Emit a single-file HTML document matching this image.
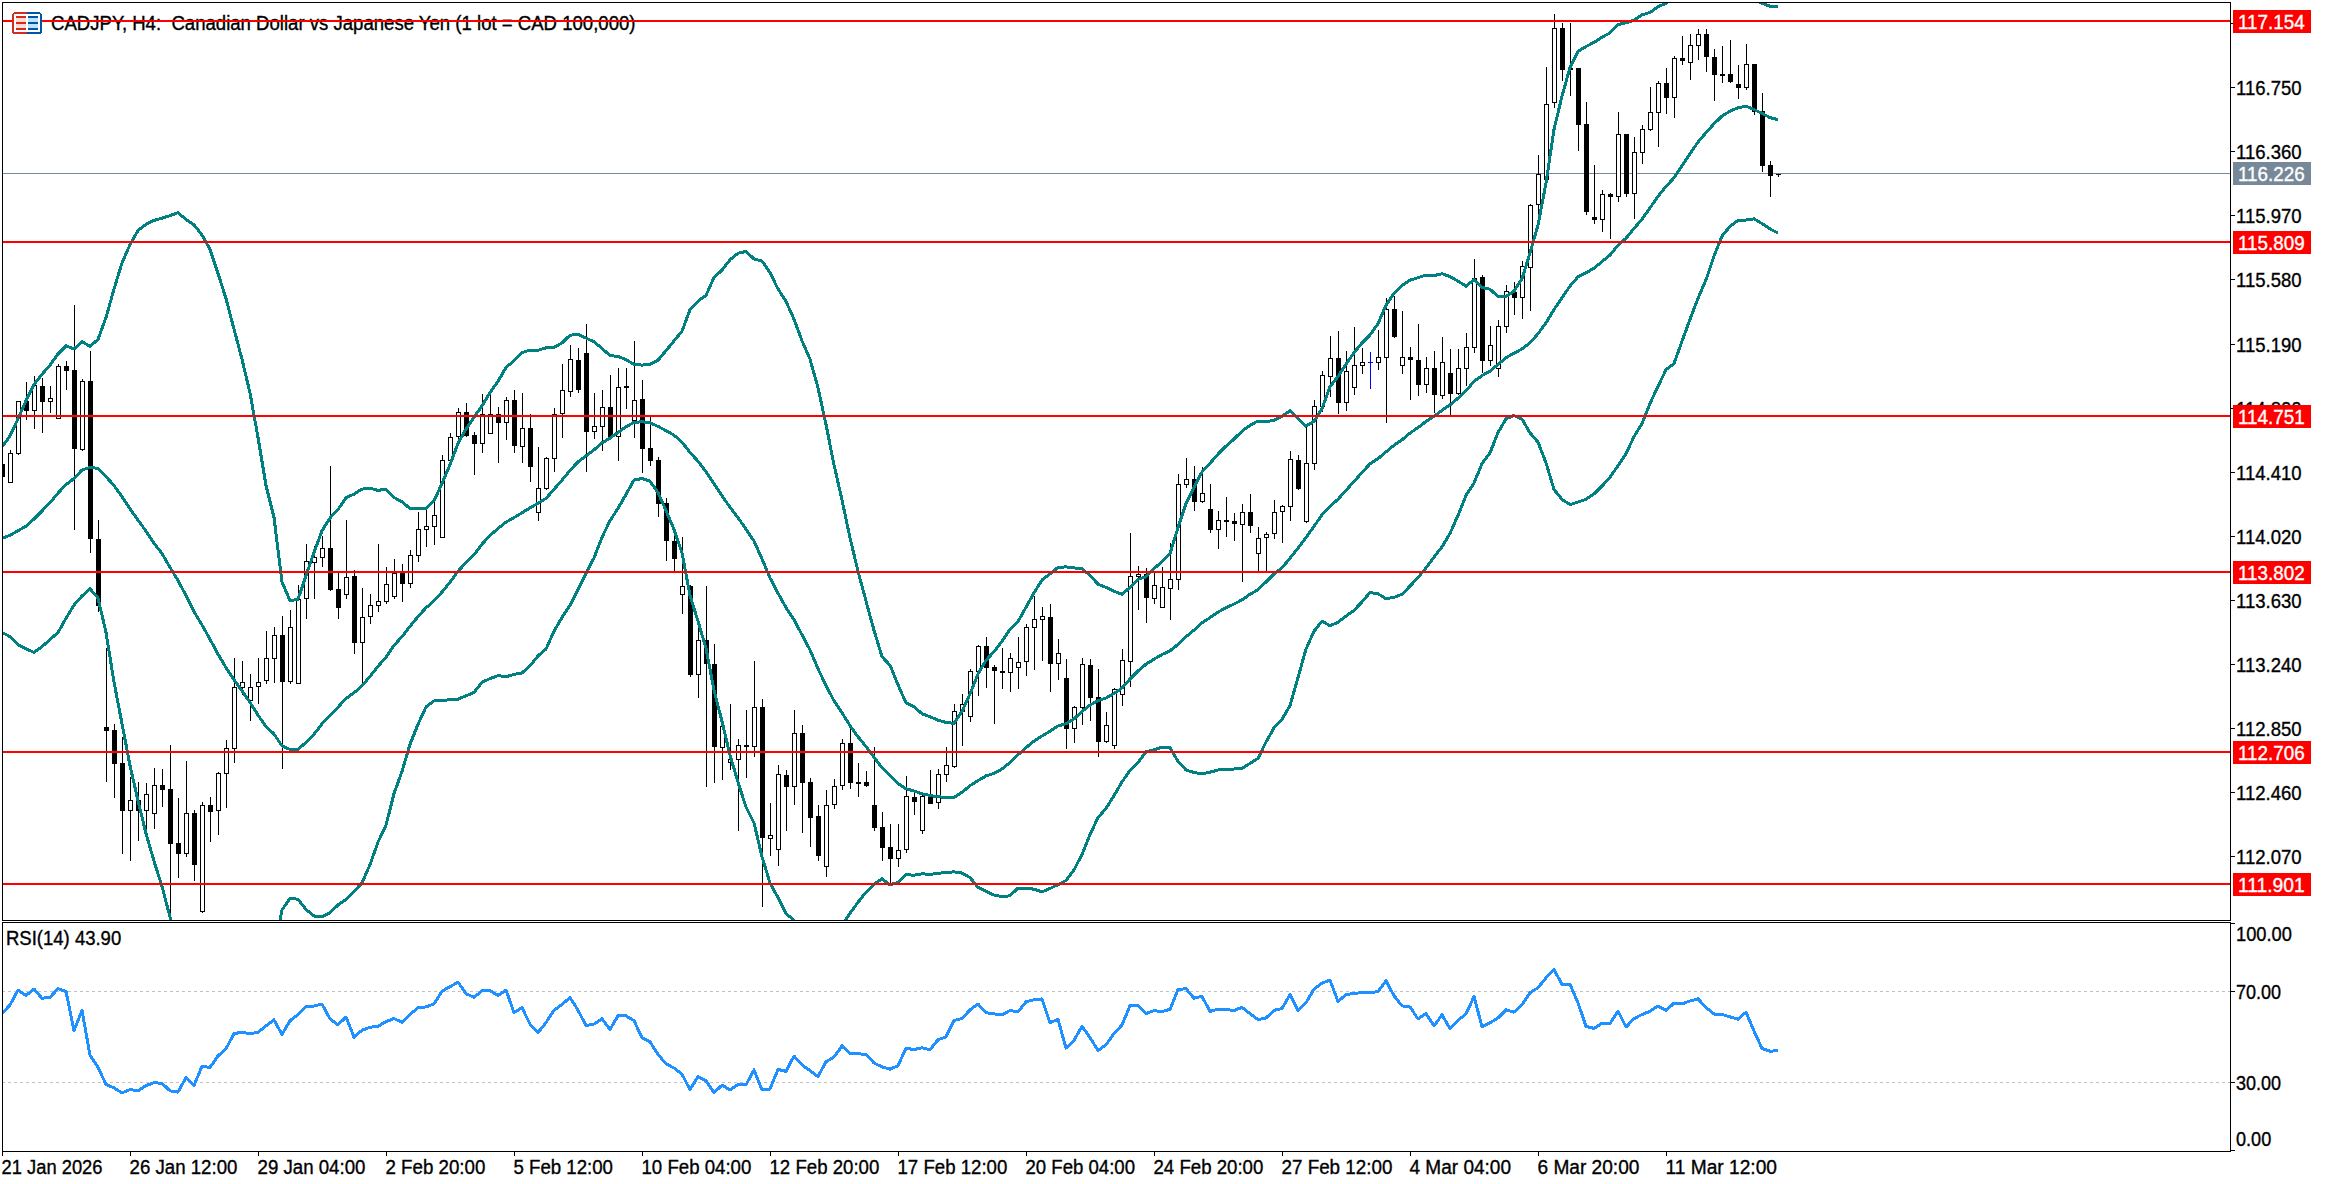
<!DOCTYPE html><html><head><meta charset="utf-8"><title>CADJPY, H4</title><style>html,body{margin:0;padding:0;background:#fff;overflow:hidden}svg{display:block}text{font-family:"Liberation Sans",sans-serif;stroke:currentColor;stroke-width:0.35px;paint-order:stroke}</style></head><body>
<svg width="2326" height="1184" viewBox="0 0 2326 1184">
<defs><clipPath id="cm"><rect x="3" y="3" width="2227" height="917"/></clipPath><clipPath id="cr"><rect x="3" y="923" width="2227" height="228"/></clipPath></defs>
<rect x="0" y="0" width="2326" height="1184" fill="#fff"/>
<g clip-path="url(#cm)">
<text x="51" y="30" font-size="19.5" textLength="584.5" lengthAdjust="spacingAndGlyphs" fill="#000" xml:space="preserve">CADJPY, H4:  Canadian Dollar vs Japanese Yen (1 lot = CAD 100,000)</text>
<rect x="3" y="173" width="2227" height="1" fill="#778899"/>
<g shape-rendering="crispEdges">
<rect x="2" y="460" width="1" height="20" fill="#000"/>
<rect x="0" y="464" width="5" height="13" fill="#000"/>
<rect x="10" y="450" width="1" height="33" fill="#000"/>
<rect x="8" y="453" width="5" height="30" fill="#000"/>
<rect x="9" y="454" width="3" height="28" fill="#fff"/>
<rect x="18" y="401" width="1" height="54" fill="#000"/>
<rect x="16" y="401" width="5" height="53" fill="#000"/>
<rect x="17" y="402" width="3" height="51" fill="#fff"/>
<rect x="26" y="382" width="1" height="38" fill="#000"/>
<rect x="24" y="401" width="5" height="10" fill="#000"/>
<rect x="34" y="376" width="1" height="53" fill="#000"/>
<rect x="32" y="385" width="5" height="26" fill="#000"/>
<rect x="33" y="386" width="3" height="24" fill="#fff"/>
<rect x="42" y="378" width="1" height="55" fill="#000"/>
<rect x="40" y="386" width="5" height="16" fill="#000"/>
<rect x="50" y="386" width="1" height="27" fill="#000"/>
<rect x="48" y="398" width="5" height="4" fill="#000"/>
<rect x="49" y="399" width="3" height="2" fill="#fff"/>
<rect x="58" y="364" width="1" height="55" fill="#000"/>
<rect x="56" y="366" width="5" height="53" fill="#000"/>
<rect x="57" y="367" width="3" height="51" fill="#fff"/>
<rect x="66" y="361" width="1" height="29" fill="#000"/>
<rect x="64" y="366" width="5" height="5" fill="#000"/>
<rect x="74" y="305" width="1" height="225" fill="#000"/>
<rect x="72" y="370" width="5" height="79" fill="#000"/>
<rect x="82" y="379" width="1" height="72" fill="#000"/>
<rect x="80" y="381" width="5" height="69" fill="#000"/>
<rect x="81" y="382" width="3" height="67" fill="#fff"/>
<rect x="90" y="351" width="1" height="202" fill="#000"/>
<rect x="88" y="381" width="5" height="158" fill="#000"/>
<rect x="98" y="520" width="1" height="92" fill="#000"/>
<rect x="96" y="539" width="5" height="67" fill="#000"/>
<rect x="106" y="648" width="1" height="134" fill="#000"/>
<rect x="104" y="727" width="5" height="4" fill="#000"/>
<rect x="114" y="724" width="1" height="74" fill="#000"/>
<rect x="112" y="730" width="5" height="34" fill="#000"/>
<rect x="122" y="737" width="1" height="117" fill="#000"/>
<rect x="120" y="763" width="5" height="48" fill="#000"/>
<rect x="130" y="777" width="1" height="84" fill="#000"/>
<rect x="128" y="800" width="5" height="11" fill="#000"/>
<rect x="129" y="801" width="3" height="9" fill="#fff"/>
<rect x="138" y="782" width="1" height="59" fill="#000"/>
<rect x="136" y="800" width="5" height="11" fill="#000"/>
<rect x="146" y="783" width="1" height="46" fill="#000"/>
<rect x="144" y="794" width="5" height="17" fill="#000"/>
<rect x="145" y="795" width="3" height="15" fill="#fff"/>
<rect x="154" y="768" width="1" height="61" fill="#000"/>
<rect x="152" y="785" width="5" height="29" fill="#000"/>
<rect x="153" y="786" width="3" height="27" fill="#fff"/>
<rect x="162" y="769" width="1" height="38" fill="#000"/>
<rect x="160" y="785" width="5" height="5" fill="#000"/>
<rect x="170" y="745" width="1" height="174" fill="#000"/>
<rect x="168" y="789" width="5" height="55" fill="#000"/>
<rect x="178" y="798" width="1" height="80" fill="#000"/>
<rect x="176" y="843" width="5" height="11" fill="#000"/>
<rect x="186" y="761" width="1" height="96" fill="#000"/>
<rect x="184" y="813" width="5" height="41" fill="#000"/>
<rect x="185" y="814" width="3" height="39" fill="#fff"/>
<rect x="194" y="810" width="1" height="71" fill="#000"/>
<rect x="192" y="813" width="5" height="52" fill="#000"/>
<rect x="202" y="802" width="1" height="111" fill="#000"/>
<rect x="200" y="805" width="5" height="107" fill="#000"/>
<rect x="201" y="806" width="3" height="105" fill="#fff"/>
<rect x="210" y="797" width="1" height="45" fill="#000"/>
<rect x="208" y="805" width="5" height="7" fill="#000"/>
<rect x="218" y="772" width="1" height="63" fill="#000"/>
<rect x="216" y="773" width="5" height="38" fill="#000"/>
<rect x="217" y="774" width="3" height="36" fill="#fff"/>
<rect x="226" y="740" width="1" height="68" fill="#000"/>
<rect x="224" y="748" width="5" height="26" fill="#000"/>
<rect x="225" y="749" width="3" height="24" fill="#fff"/>
<rect x="234" y="658" width="1" height="105" fill="#000"/>
<rect x="232" y="687" width="5" height="62" fill="#000"/>
<rect x="233" y="688" width="3" height="60" fill="#fff"/>
<rect x="242" y="661" width="1" height="34" fill="#000"/>
<rect x="240" y="682" width="5" height="6" fill="#000"/>
<rect x="241" y="683" width="3" height="4" fill="#fff"/>
<rect x="250" y="674" width="1" height="47" fill="#000"/>
<rect x="248" y="687" width="5" height="14" fill="#000"/>
<rect x="249" y="688" width="3" height="12" fill="#fff"/>
<rect x="258" y="658" width="1" height="46" fill="#000"/>
<rect x="256" y="682" width="5" height="5" fill="#000"/>
<rect x="257" y="683" width="3" height="3" fill="#fff"/>
<rect x="266" y="631" width="1" height="53" fill="#000"/>
<rect x="264" y="658" width="5" height="23" fill="#000"/>
<rect x="265" y="659" width="3" height="21" fill="#fff"/>
<rect x="274" y="627" width="1" height="56" fill="#000"/>
<rect x="272" y="635" width="5" height="24" fill="#000"/>
<rect x="273" y="636" width="3" height="22" fill="#fff"/>
<rect x="282" y="616" width="1" height="153" fill="#000"/>
<rect x="280" y="635" width="5" height="47" fill="#000"/>
<rect x="290" y="610" width="1" height="74" fill="#000"/>
<rect x="288" y="627" width="5" height="55" fill="#000"/>
<rect x="289" y="628" width="3" height="53" fill="#fff"/>
<rect x="298" y="585" width="1" height="99" fill="#000"/>
<rect x="296" y="599" width="5" height="85" fill="#000"/>
<rect x="297" y="600" width="3" height="83" fill="#fff"/>
<rect x="306" y="544" width="1" height="75" fill="#000"/>
<rect x="304" y="561" width="5" height="38" fill="#000"/>
<rect x="305" y="562" width="3" height="36" fill="#fff"/>
<rect x="314" y="546" width="1" height="53" fill="#000"/>
<rect x="312" y="557" width="5" height="6" fill="#000"/>
<rect x="313" y="558" width="3" height="4" fill="#fff"/>
<rect x="322" y="536" width="1" height="31" fill="#000"/>
<rect x="320" y="548" width="5" height="10" fill="#000"/>
<rect x="321" y="549" width="3" height="8" fill="#fff"/>
<rect x="330" y="466" width="1" height="125" fill="#000"/>
<rect x="328" y="548" width="5" height="42" fill="#000"/>
<rect x="338" y="573" width="1" height="46" fill="#000"/>
<rect x="336" y="589" width="5" height="19" fill="#000"/>
<rect x="346" y="520" width="1" height="79" fill="#000"/>
<rect x="344" y="577" width="5" height="18" fill="#000"/>
<rect x="345" y="578" width="3" height="16" fill="#fff"/>
<rect x="354" y="570" width="1" height="84" fill="#000"/>
<rect x="352" y="576" width="5" height="67" fill="#000"/>
<rect x="362" y="588" width="1" height="96" fill="#000"/>
<rect x="360" y="617" width="5" height="26" fill="#000"/>
<rect x="361" y="618" width="3" height="24" fill="#fff"/>
<rect x="370" y="594" width="1" height="30" fill="#000"/>
<rect x="368" y="605" width="5" height="12" fill="#000"/>
<rect x="369" y="606" width="3" height="10" fill="#fff"/>
<rect x="378" y="544" width="1" height="68" fill="#000"/>
<rect x="376" y="601" width="5" height="5" fill="#000"/>
<rect x="377" y="602" width="3" height="3" fill="#fff"/>
<rect x="386" y="567" width="1" height="37" fill="#000"/>
<rect x="384" y="584" width="5" height="18" fill="#000"/>
<rect x="385" y="585" width="3" height="16" fill="#fff"/>
<rect x="394" y="559" width="1" height="40" fill="#000"/>
<rect x="392" y="573" width="5" height="24" fill="#000"/>
<rect x="393" y="574" width="3" height="22" fill="#fff"/>
<rect x="402" y="564" width="1" height="38" fill="#000"/>
<rect x="400" y="573" width="5" height="11" fill="#000"/>
<rect x="410" y="550" width="1" height="38" fill="#000"/>
<rect x="408" y="555" width="5" height="29" fill="#000"/>
<rect x="409" y="556" width="3" height="27" fill="#fff"/>
<rect x="418" y="512" width="1" height="50" fill="#000"/>
<rect x="416" y="529" width="5" height="27" fill="#000"/>
<rect x="417" y="530" width="3" height="25" fill="#fff"/>
<rect x="426" y="510" width="1" height="37" fill="#000"/>
<rect x="424" y="526" width="5" height="4" fill="#000"/>
<rect x="425" y="527" width="3" height="2" fill="#fff"/>
<rect x="434" y="502" width="1" height="43" fill="#000"/>
<rect x="432" y="515" width="5" height="12" fill="#000"/>
<rect x="433" y="516" width="3" height="10" fill="#fff"/>
<rect x="442" y="455" width="1" height="83" fill="#000"/>
<rect x="440" y="460" width="5" height="78" fill="#000"/>
<rect x="441" y="461" width="3" height="76" fill="#fff"/>
<rect x="450" y="433" width="1" height="28" fill="#000"/>
<rect x="448" y="437" width="5" height="24" fill="#000"/>
<rect x="449" y="438" width="3" height="22" fill="#fff"/>
<rect x="458" y="408" width="1" height="32" fill="#000"/>
<rect x="456" y="412" width="5" height="25" fill="#000"/>
<rect x="457" y="413" width="3" height="23" fill="#fff"/>
<rect x="466" y="403" width="1" height="34" fill="#000"/>
<rect x="464" y="412" width="5" height="24" fill="#000"/>
<rect x="474" y="432" width="1" height="43" fill="#000"/>
<rect x="472" y="435" width="5" height="9" fill="#000"/>
<rect x="482" y="394" width="1" height="59" fill="#000"/>
<rect x="480" y="414" width="5" height="30" fill="#000"/>
<rect x="481" y="415" width="3" height="28" fill="#fff"/>
<rect x="490" y="395" width="1" height="39" fill="#000"/>
<rect x="488" y="414" width="5" height="20" fill="#000"/>
<rect x="489" y="415" width="3" height="18" fill="#fff"/>
<rect x="498" y="407" width="1" height="56" fill="#000"/>
<rect x="496" y="414" width="5" height="9" fill="#000"/>
<rect x="506" y="397" width="1" height="43" fill="#000"/>
<rect x="504" y="400" width="5" height="23" fill="#000"/>
<rect x="505" y="401" width="3" height="21" fill="#fff"/>
<rect x="514" y="390" width="1" height="63" fill="#000"/>
<rect x="512" y="400" width="5" height="46" fill="#000"/>
<rect x="522" y="393" width="1" height="70" fill="#000"/>
<rect x="520" y="428" width="5" height="19" fill="#000"/>
<rect x="521" y="429" width="3" height="17" fill="#fff"/>
<rect x="530" y="414" width="1" height="68" fill="#000"/>
<rect x="528" y="428" width="5" height="39" fill="#000"/>
<rect x="538" y="447" width="1" height="74" fill="#000"/>
<rect x="536" y="488" width="5" height="25" fill="#000"/>
<rect x="537" y="489" width="3" height="23" fill="#fff"/>
<rect x="546" y="457" width="1" height="33" fill="#000"/>
<rect x="544" y="458" width="5" height="31" fill="#000"/>
<rect x="545" y="459" width="3" height="29" fill="#fff"/>
<rect x="554" y="408" width="1" height="64" fill="#000"/>
<rect x="552" y="414" width="5" height="45" fill="#000"/>
<rect x="553" y="415" width="3" height="43" fill="#fff"/>
<rect x="562" y="364" width="1" height="74" fill="#000"/>
<rect x="560" y="390" width="5" height="24" fill="#000"/>
<rect x="561" y="391" width="3" height="22" fill="#fff"/>
<rect x="570" y="345" width="1" height="52" fill="#000"/>
<rect x="568" y="359" width="5" height="33" fill="#000"/>
<rect x="569" y="360" width="3" height="31" fill="#fff"/>
<rect x="578" y="348" width="1" height="45" fill="#000"/>
<rect x="576" y="360" width="5" height="30" fill="#000"/>
<rect x="586" y="324" width="1" height="148" fill="#000"/>
<rect x="584" y="353" width="5" height="79" fill="#000"/>
<rect x="594" y="393" width="1" height="46" fill="#000"/>
<rect x="592" y="426" width="5" height="6" fill="#000"/>
<rect x="593" y="427" width="3" height="4" fill="#fff"/>
<rect x="602" y="390" width="1" height="61" fill="#000"/>
<rect x="600" y="407" width="5" height="20" fill="#000"/>
<rect x="601" y="408" width="3" height="18" fill="#fff"/>
<rect x="610" y="375" width="1" height="62" fill="#000"/>
<rect x="608" y="407" width="5" height="30" fill="#000"/>
<rect x="618" y="368" width="1" height="93" fill="#000"/>
<rect x="616" y="387" width="5" height="50" fill="#000"/>
<rect x="617" y="388" width="3" height="48" fill="#fff"/>
<rect x="626" y="368" width="1" height="41" fill="#000"/>
<rect x="624" y="386" width="5" height="2" fill="#000"/>
<rect x="634" y="341" width="1" height="97" fill="#000"/>
<rect x="632" y="400" width="5" height="21" fill="#000"/>
<rect x="633" y="401" width="3" height="19" fill="#fff"/>
<rect x="642" y="380" width="1" height="93" fill="#000"/>
<rect x="640" y="399" width="5" height="50" fill="#000"/>
<rect x="650" y="417" width="1" height="49" fill="#000"/>
<rect x="648" y="448" width="5" height="13" fill="#000"/>
<rect x="658" y="457" width="1" height="60" fill="#000"/>
<rect x="656" y="460" width="5" height="44" fill="#000"/>
<rect x="666" y="498" width="1" height="63" fill="#000"/>
<rect x="664" y="503" width="5" height="38" fill="#000"/>
<rect x="674" y="534" width="1" height="37" fill="#000"/>
<rect x="672" y="541" width="5" height="18" fill="#000"/>
<rect x="682" y="537" width="1" height="77" fill="#000"/>
<rect x="680" y="586" width="5" height="9" fill="#000"/>
<rect x="681" y="587" width="3" height="7" fill="#fff"/>
<rect x="690" y="585" width="1" height="92" fill="#000"/>
<rect x="688" y="586" width="5" height="89" fill="#000"/>
<rect x="698" y="626" width="1" height="72" fill="#000"/>
<rect x="696" y="640" width="5" height="35" fill="#000"/>
<rect x="697" y="641" width="3" height="33" fill="#fff"/>
<rect x="706" y="586" width="1" height="201" fill="#000"/>
<rect x="704" y="640" width="5" height="24" fill="#000"/>
<rect x="714" y="644" width="1" height="139" fill="#000"/>
<rect x="712" y="664" width="5" height="83" fill="#000"/>
<rect x="722" y="726" width="1" height="54" fill="#000"/>
<rect x="720" y="726" width="5" height="22" fill="#000"/>
<rect x="721" y="727" width="3" height="20" fill="#fff"/>
<rect x="730" y="704" width="1" height="66" fill="#000"/>
<rect x="728" y="759" width="5" height="4" fill="#000"/>
<rect x="729" y="760" width="3" height="2" fill="#fff"/>
<rect x="738" y="739" width="1" height="92" fill="#000"/>
<rect x="736" y="745" width="5" height="15" fill="#000"/>
<rect x="737" y="746" width="3" height="13" fill="#fff"/>
<rect x="746" y="710" width="1" height="68" fill="#000"/>
<rect x="744" y="745" width="5" height="2" fill="#000"/>
<rect x="754" y="661" width="1" height="96" fill="#000"/>
<rect x="752" y="707" width="5" height="40" fill="#000"/>
<rect x="753" y="708" width="3" height="38" fill="#fff"/>
<rect x="762" y="699" width="1" height="208" fill="#000"/>
<rect x="760" y="707" width="5" height="131" fill="#000"/>
<rect x="770" y="803" width="1" height="53" fill="#000"/>
<rect x="768" y="835" width="5" height="4" fill="#000"/>
<rect x="769" y="836" width="3" height="2" fill="#fff"/>
<rect x="778" y="765" width="1" height="101" fill="#000"/>
<rect x="776" y="774" width="5" height="76" fill="#000"/>
<rect x="777" y="775" width="3" height="74" fill="#fff"/>
<rect x="786" y="770" width="1" height="61" fill="#000"/>
<rect x="784" y="775" width="5" height="12" fill="#000"/>
<rect x="794" y="710" width="1" height="95" fill="#000"/>
<rect x="792" y="733" width="5" height="54" fill="#000"/>
<rect x="793" y="734" width="3" height="52" fill="#fff"/>
<rect x="802" y="725" width="1" height="108" fill="#000"/>
<rect x="800" y="733" width="5" height="50" fill="#000"/>
<rect x="810" y="778" width="1" height="69" fill="#000"/>
<rect x="808" y="782" width="5" height="36" fill="#000"/>
<rect x="818" y="805" width="1" height="56" fill="#000"/>
<rect x="816" y="816" width="5" height="40" fill="#000"/>
<rect x="826" y="790" width="1" height="87" fill="#000"/>
<rect x="824" y="805" width="5" height="62" fill="#000"/>
<rect x="825" y="806" width="3" height="60" fill="#fff"/>
<rect x="834" y="779" width="1" height="30" fill="#000"/>
<rect x="832" y="786" width="5" height="19" fill="#000"/>
<rect x="833" y="787" width="3" height="17" fill="#fff"/>
<rect x="842" y="739" width="1" height="51" fill="#000"/>
<rect x="840" y="743" width="5" height="43" fill="#000"/>
<rect x="841" y="744" width="3" height="41" fill="#fff"/>
<rect x="850" y="728" width="1" height="61" fill="#000"/>
<rect x="848" y="743" width="5" height="40" fill="#000"/>
<rect x="858" y="763" width="1" height="34" fill="#000"/>
<rect x="856" y="782" width="5" height="2" fill="#000"/>
<rect x="866" y="771" width="1" height="16" fill="#000"/>
<rect x="864" y="782" width="5" height="4" fill="#000"/>
<rect x="874" y="747" width="1" height="84" fill="#000"/>
<rect x="872" y="805" width="5" height="23" fill="#000"/>
<rect x="882" y="812" width="1" height="49" fill="#000"/>
<rect x="880" y="827" width="5" height="21" fill="#000"/>
<rect x="890" y="824" width="1" height="60" fill="#000"/>
<rect x="888" y="847" width="5" height="12" fill="#000"/>
<rect x="898" y="824" width="1" height="43" fill="#000"/>
<rect x="896" y="850" width="5" height="9" fill="#000"/>
<rect x="897" y="851" width="3" height="7" fill="#fff"/>
<rect x="906" y="776" width="1" height="77" fill="#000"/>
<rect x="904" y="796" width="5" height="54" fill="#000"/>
<rect x="905" y="797" width="3" height="52" fill="#fff"/>
<rect x="914" y="792" width="1" height="23" fill="#000"/>
<rect x="912" y="797" width="5" height="5" fill="#000"/>
<rect x="922" y="794" width="1" height="40" fill="#000"/>
<rect x="920" y="796" width="5" height="35" fill="#000"/>
<rect x="921" y="797" width="3" height="33" fill="#fff"/>
<rect x="930" y="770" width="1" height="34" fill="#000"/>
<rect x="928" y="797" width="5" height="7" fill="#000"/>
<rect x="938" y="769" width="1" height="40" fill="#000"/>
<rect x="936" y="774" width="5" height="29" fill="#000"/>
<rect x="937" y="775" width="3" height="27" fill="#fff"/>
<rect x="946" y="747" width="1" height="35" fill="#000"/>
<rect x="944" y="765" width="5" height="10" fill="#000"/>
<rect x="945" y="766" width="3" height="8" fill="#fff"/>
<rect x="954" y="704" width="1" height="64" fill="#000"/>
<rect x="952" y="711" width="5" height="56" fill="#000"/>
<rect x="953" y="712" width="3" height="54" fill="#fff"/>
<rect x="962" y="694" width="1" height="52" fill="#000"/>
<rect x="960" y="704" width="5" height="8" fill="#000"/>
<rect x="961" y="705" width="3" height="6" fill="#fff"/>
<rect x="970" y="669" width="1" height="53" fill="#000"/>
<rect x="968" y="671" width="5" height="46" fill="#000"/>
<rect x="969" y="672" width="3" height="44" fill="#fff"/>
<rect x="978" y="645" width="1" height="51" fill="#000"/>
<rect x="976" y="646" width="5" height="26" fill="#000"/>
<rect x="977" y="647" width="3" height="24" fill="#fff"/>
<rect x="986" y="637" width="1" height="51" fill="#000"/>
<rect x="984" y="646" width="5" height="22" fill="#000"/>
<rect x="994" y="665" width="1" height="59" fill="#000"/>
<rect x="992" y="667" width="5" height="4" fill="#000"/>
<rect x="1002" y="648" width="1" height="41" fill="#000"/>
<rect x="1000" y="671" width="5" height="2" fill="#000"/>
<rect x="1010" y="653" width="1" height="39" fill="#000"/>
<rect x="1008" y="658" width="5" height="15" fill="#000"/>
<rect x="1009" y="659" width="3" height="13" fill="#fff"/>
<rect x="1018" y="637" width="1" height="52" fill="#000"/>
<rect x="1016" y="662" width="5" height="6" fill="#000"/>
<rect x="1017" y="663" width="3" height="4" fill="#fff"/>
<rect x="1026" y="624" width="1" height="52" fill="#000"/>
<rect x="1024" y="627" width="5" height="35" fill="#000"/>
<rect x="1025" y="628" width="3" height="33" fill="#fff"/>
<rect x="1034" y="596" width="1" height="74" fill="#000"/>
<rect x="1032" y="619" width="5" height="9" fill="#000"/>
<rect x="1033" y="620" width="3" height="7" fill="#fff"/>
<rect x="1042" y="607" width="1" height="54" fill="#000"/>
<rect x="1040" y="616" width="5" height="4" fill="#000"/>
<rect x="1041" y="617" width="3" height="2" fill="#fff"/>
<rect x="1050" y="604" width="1" height="88" fill="#000"/>
<rect x="1048" y="617" width="5" height="47" fill="#000"/>
<rect x="1058" y="639" width="1" height="41" fill="#000"/>
<rect x="1056" y="653" width="5" height="11" fill="#000"/>
<rect x="1057" y="654" width="3" height="9" fill="#fff"/>
<rect x="1066" y="659" width="1" height="90" fill="#000"/>
<rect x="1064" y="678" width="5" height="51" fill="#000"/>
<rect x="1074" y="706" width="1" height="37" fill="#000"/>
<rect x="1072" y="707" width="5" height="22" fill="#000"/>
<rect x="1073" y="708" width="3" height="20" fill="#fff"/>
<rect x="1082" y="658" width="1" height="67" fill="#000"/>
<rect x="1080" y="664" width="5" height="44" fill="#000"/>
<rect x="1081" y="665" width="3" height="42" fill="#fff"/>
<rect x="1090" y="659" width="1" height="62" fill="#000"/>
<rect x="1088" y="665" width="5" height="33" fill="#000"/>
<rect x="1098" y="669" width="1" height="88" fill="#000"/>
<rect x="1096" y="697" width="5" height="45" fill="#000"/>
<rect x="1106" y="712" width="1" height="31" fill="#000"/>
<rect x="1104" y="725" width="5" height="17" fill="#000"/>
<rect x="1105" y="726" width="3" height="15" fill="#fff"/>
<rect x="1114" y="688" width="1" height="61" fill="#000"/>
<rect x="1112" y="689" width="5" height="57" fill="#000"/>
<rect x="1113" y="690" width="3" height="55" fill="#fff"/>
<rect x="1122" y="649" width="1" height="57" fill="#000"/>
<rect x="1120" y="660" width="5" height="35" fill="#000"/>
<rect x="1121" y="661" width="3" height="33" fill="#fff"/>
<rect x="1130" y="533" width="1" height="154" fill="#000"/>
<rect x="1128" y="576" width="5" height="86" fill="#000"/>
<rect x="1129" y="577" width="3" height="84" fill="#fff"/>
<rect x="1138" y="566" width="1" height="44" fill="#000"/>
<rect x="1136" y="574" width="5" height="3" fill="#000"/>
<rect x="1137" y="575" width="3" height="1" fill="#fff"/>
<rect x="1146" y="568" width="1" height="55" fill="#000"/>
<rect x="1144" y="574" width="5" height="24" fill="#000"/>
<rect x="1154" y="573" width="1" height="31" fill="#000"/>
<rect x="1152" y="585" width="5" height="14" fill="#000"/>
<rect x="1153" y="586" width="3" height="12" fill="#fff"/>
<rect x="1162" y="567" width="1" height="41" fill="#000"/>
<rect x="1160" y="587" width="5" height="21" fill="#000"/>
<rect x="1161" y="588" width="3" height="19" fill="#fff"/>
<rect x="1170" y="543" width="1" height="77" fill="#000"/>
<rect x="1168" y="579" width="5" height="10" fill="#000"/>
<rect x="1169" y="580" width="3" height="8" fill="#fff"/>
<rect x="1178" y="474" width="1" height="116" fill="#000"/>
<rect x="1176" y="484" width="5" height="96" fill="#000"/>
<rect x="1177" y="485" width="3" height="94" fill="#fff"/>
<rect x="1186" y="458" width="1" height="30" fill="#000"/>
<rect x="1184" y="479" width="5" height="6" fill="#000"/>
<rect x="1185" y="480" width="3" height="4" fill="#fff"/>
<rect x="1194" y="466" width="1" height="45" fill="#000"/>
<rect x="1192" y="479" width="5" height="23" fill="#000"/>
<rect x="1202" y="467" width="1" height="36" fill="#000"/>
<rect x="1200" y="493" width="5" height="9" fill="#000"/>
<rect x="1201" y="494" width="3" height="7" fill="#fff"/>
<rect x="1210" y="484" width="1" height="49" fill="#000"/>
<rect x="1208" y="509" width="5" height="21" fill="#000"/>
<rect x="1218" y="511" width="1" height="38" fill="#000"/>
<rect x="1216" y="520" width="5" height="10" fill="#000"/>
<rect x="1217" y="521" width="3" height="8" fill="#fff"/>
<rect x="1226" y="497" width="1" height="40" fill="#000"/>
<rect x="1224" y="520" width="5" height="2" fill="#000"/>
<rect x="1234" y="513" width="1" height="28" fill="#000"/>
<rect x="1232" y="521" width="5" height="3" fill="#000"/>
<rect x="1242" y="504" width="1" height="78" fill="#000"/>
<rect x="1240" y="512" width="5" height="13" fill="#000"/>
<rect x="1241" y="513" width="3" height="11" fill="#fff"/>
<rect x="1250" y="494" width="1" height="39" fill="#000"/>
<rect x="1248" y="512" width="5" height="14" fill="#000"/>
<rect x="1258" y="527" width="1" height="44" fill="#000"/>
<rect x="1256" y="538" width="5" height="16" fill="#000"/>
<rect x="1257" y="539" width="3" height="14" fill="#fff"/>
<rect x="1266" y="532" width="1" height="39" fill="#000"/>
<rect x="1264" y="534" width="5" height="4" fill="#000"/>
<rect x="1265" y="535" width="3" height="2" fill="#fff"/>
<rect x="1274" y="500" width="1" height="39" fill="#000"/>
<rect x="1272" y="512" width="5" height="22" fill="#000"/>
<rect x="1273" y="513" width="3" height="20" fill="#fff"/>
<rect x="1282" y="505" width="1" height="38" fill="#000"/>
<rect x="1280" y="506" width="5" height="6" fill="#000"/>
<rect x="1281" y="507" width="3" height="4" fill="#fff"/>
<rect x="1290" y="451" width="1" height="70" fill="#000"/>
<rect x="1288" y="459" width="5" height="48" fill="#000"/>
<rect x="1289" y="460" width="3" height="46" fill="#fff"/>
<rect x="1298" y="455" width="1" height="35" fill="#000"/>
<rect x="1296" y="460" width="5" height="29" fill="#000"/>
<rect x="1306" y="426" width="1" height="97" fill="#000"/>
<rect x="1304" y="463" width="5" height="59" fill="#000"/>
<rect x="1305" y="464" width="3" height="57" fill="#fff"/>
<rect x="1314" y="400" width="1" height="70" fill="#000"/>
<rect x="1312" y="406" width="5" height="58" fill="#000"/>
<rect x="1313" y="407" width="3" height="56" fill="#fff"/>
<rect x="1322" y="371" width="1" height="41" fill="#000"/>
<rect x="1320" y="375" width="5" height="32" fill="#000"/>
<rect x="1321" y="376" width="3" height="30" fill="#fff"/>
<rect x="1330" y="336" width="1" height="61" fill="#000"/>
<rect x="1328" y="358" width="5" height="19" fill="#000"/>
<rect x="1329" y="359" width="3" height="17" fill="#fff"/>
<rect x="1338" y="331" width="1" height="83" fill="#000"/>
<rect x="1336" y="358" width="5" height="45" fill="#000"/>
<rect x="1346" y="351" width="1" height="60" fill="#000"/>
<rect x="1344" y="371" width="5" height="32" fill="#000"/>
<rect x="1345" y="372" width="3" height="30" fill="#fff"/>
<rect x="1354" y="327" width="1" height="68" fill="#000"/>
<rect x="1352" y="365" width="5" height="23" fill="#000"/>
<rect x="1353" y="366" width="3" height="21" fill="#fff"/>
<rect x="1362" y="348" width="1" height="26" fill="#000"/>
<rect x="1360" y="362" width="5" height="4" fill="#000"/>
<rect x="1361" y="363" width="3" height="2" fill="#fff"/>
<rect x="1370" y="352" width="1" height="37" fill="#0000ff"/>
<rect x="1368" y="362" width="5" height="1" fill="#0000ff"/>
<rect x="1378" y="330" width="1" height="40" fill="#000"/>
<rect x="1376" y="357" width="5" height="6" fill="#000"/>
<rect x="1377" y="358" width="3" height="4" fill="#fff"/>
<rect x="1386" y="298" width="1" height="125" fill="#000"/>
<rect x="1384" y="309" width="5" height="49" fill="#000"/>
<rect x="1385" y="310" width="3" height="47" fill="#fff"/>
<rect x="1394" y="296" width="1" height="42" fill="#000"/>
<rect x="1392" y="309" width="5" height="28" fill="#000"/>
<rect x="1402" y="311" width="1" height="63" fill="#000"/>
<rect x="1400" y="357" width="5" height="9" fill="#000"/>
<rect x="1401" y="358" width="3" height="7" fill="#fff"/>
<rect x="1410" y="347" width="1" height="53" fill="#000"/>
<rect x="1408" y="357" width="5" height="3" fill="#000"/>
<rect x="1418" y="324" width="1" height="72" fill="#000"/>
<rect x="1416" y="360" width="5" height="25" fill="#000"/>
<rect x="1426" y="357" width="1" height="36" fill="#000"/>
<rect x="1424" y="368" width="5" height="17" fill="#000"/>
<rect x="1425" y="369" width="3" height="15" fill="#fff"/>
<rect x="1434" y="351" width="1" height="62" fill="#000"/>
<rect x="1432" y="368" width="5" height="27" fill="#000"/>
<rect x="1442" y="337" width="1" height="62" fill="#000"/>
<rect x="1440" y="362" width="5" height="34" fill="#000"/>
<rect x="1441" y="363" width="3" height="32" fill="#fff"/>
<rect x="1450" y="349" width="1" height="67" fill="#000"/>
<rect x="1448" y="373" width="5" height="21" fill="#000"/>
<rect x="1458" y="349" width="1" height="46" fill="#000"/>
<rect x="1456" y="368" width="5" height="26" fill="#000"/>
<rect x="1457" y="369" width="3" height="24" fill="#fff"/>
<rect x="1466" y="333" width="1" height="53" fill="#000"/>
<rect x="1464" y="347" width="5" height="22" fill="#000"/>
<rect x="1465" y="348" width="3" height="20" fill="#fff"/>
<rect x="1474" y="259" width="1" height="94" fill="#000"/>
<rect x="1472" y="278" width="5" height="70" fill="#000"/>
<rect x="1473" y="279" width="3" height="68" fill="#fff"/>
<rect x="1482" y="275" width="1" height="98" fill="#000"/>
<rect x="1480" y="277" width="5" height="84" fill="#000"/>
<rect x="1490" y="326" width="1" height="40" fill="#000"/>
<rect x="1488" y="345" width="5" height="16" fill="#000"/>
<rect x="1489" y="346" width="3" height="14" fill="#fff"/>
<rect x="1498" y="320" width="1" height="57" fill="#000"/>
<rect x="1496" y="326" width="5" height="43" fill="#000"/>
<rect x="1497" y="327" width="3" height="41" fill="#fff"/>
<rect x="1506" y="285" width="1" height="48" fill="#000"/>
<rect x="1504" y="291" width="5" height="36" fill="#000"/>
<rect x="1505" y="292" width="3" height="34" fill="#fff"/>
<rect x="1514" y="282" width="1" height="33" fill="#000"/>
<rect x="1512" y="292" width="5" height="6" fill="#000"/>
<rect x="1522" y="261" width="1" height="58" fill="#000"/>
<rect x="1520" y="266" width="5" height="32" fill="#000"/>
<rect x="1521" y="267" width="3" height="30" fill="#fff"/>
<rect x="1530" y="204" width="1" height="107" fill="#000"/>
<rect x="1528" y="205" width="5" height="63" fill="#000"/>
<rect x="1529" y="206" width="3" height="61" fill="#fff"/>
<rect x="1538" y="155" width="1" height="61" fill="#000"/>
<rect x="1536" y="174" width="5" height="31" fill="#000"/>
<rect x="1537" y="175" width="3" height="29" fill="#fff"/>
<rect x="1546" y="67" width="1" height="113" fill="#000"/>
<rect x="1544" y="104" width="5" height="76" fill="#000"/>
<rect x="1545" y="105" width="3" height="74" fill="#fff"/>
<rect x="1554" y="14" width="1" height="94" fill="#000"/>
<rect x="1552" y="28" width="5" height="75" fill="#000"/>
<rect x="1553" y="29" width="3" height="73" fill="#fff"/>
<rect x="1562" y="23" width="1" height="58" fill="#000"/>
<rect x="1560" y="28" width="5" height="42" fill="#000"/>
<rect x="1570" y="23" width="1" height="73" fill="#000"/>
<rect x="1568" y="68" width="5" height="2" fill="#000"/>
<rect x="1578" y="68" width="1" height="83" fill="#000"/>
<rect x="1576" y="68" width="5" height="57" fill="#000"/>
<rect x="1586" y="102" width="1" height="113" fill="#000"/>
<rect x="1584" y="124" width="5" height="88" fill="#000"/>
<rect x="1594" y="165" width="1" height="59" fill="#000"/>
<rect x="1592" y="217" width="5" height="3" fill="#000"/>
<rect x="1602" y="190" width="1" height="42" fill="#000"/>
<rect x="1600" y="194" width="5" height="26" fill="#000"/>
<rect x="1601" y="195" width="3" height="24" fill="#fff"/>
<rect x="1610" y="193" width="1" height="46" fill="#000"/>
<rect x="1608" y="194" width="5" height="3" fill="#000"/>
<rect x="1618" y="112" width="1" height="90" fill="#000"/>
<rect x="1616" y="134" width="5" height="63" fill="#000"/>
<rect x="1617" y="135" width="3" height="61" fill="#fff"/>
<rect x="1626" y="134" width="1" height="63" fill="#000"/>
<rect x="1624" y="134" width="5" height="60" fill="#000"/>
<rect x="1634" y="137" width="1" height="82" fill="#000"/>
<rect x="1632" y="152" width="5" height="42" fill="#000"/>
<rect x="1633" y="153" width="3" height="40" fill="#fff"/>
<rect x="1642" y="125" width="1" height="39" fill="#000"/>
<rect x="1640" y="129" width="5" height="24" fill="#000"/>
<rect x="1641" y="130" width="3" height="22" fill="#fff"/>
<rect x="1650" y="87" width="1" height="44" fill="#000"/>
<rect x="1648" y="112" width="5" height="18" fill="#000"/>
<rect x="1649" y="113" width="3" height="16" fill="#fff"/>
<rect x="1658" y="81" width="1" height="66" fill="#000"/>
<rect x="1656" y="83" width="5" height="30" fill="#000"/>
<rect x="1657" y="84" width="3" height="28" fill="#fff"/>
<rect x="1666" y="68" width="1" height="46" fill="#000"/>
<rect x="1664" y="83" width="5" height="15" fill="#000"/>
<rect x="1674" y="56" width="1" height="62" fill="#000"/>
<rect x="1672" y="58" width="5" height="40" fill="#000"/>
<rect x="1673" y="59" width="3" height="38" fill="#fff"/>
<rect x="1682" y="36" width="1" height="29" fill="#000"/>
<rect x="1680" y="58" width="5" height="3" fill="#000"/>
<rect x="1690" y="34" width="1" height="46" fill="#000"/>
<rect x="1688" y="45" width="5" height="18" fill="#000"/>
<rect x="1689" y="46" width="3" height="16" fill="#fff"/>
<rect x="1698" y="29" width="1" height="31" fill="#000"/>
<rect x="1696" y="34" width="5" height="12" fill="#000"/>
<rect x="1697" y="35" width="3" height="10" fill="#fff"/>
<rect x="1706" y="29" width="1" height="43" fill="#000"/>
<rect x="1704" y="34" width="5" height="23" fill="#000"/>
<rect x="1714" y="49" width="1" height="52" fill="#000"/>
<rect x="1712" y="57" width="5" height="18" fill="#000"/>
<rect x="1722" y="46" width="1" height="37" fill="#000"/>
<rect x="1720" y="74" width="5" height="2" fill="#000"/>
<rect x="1730" y="40" width="1" height="43" fill="#000"/>
<rect x="1728" y="74" width="5" height="8" fill="#000"/>
<rect x="1738" y="65" width="1" height="34" fill="#000"/>
<rect x="1736" y="84" width="5" height="4" fill="#000"/>
<rect x="1746" y="44" width="1" height="46" fill="#000"/>
<rect x="1744" y="64" width="5" height="24" fill="#000"/>
<rect x="1745" y="65" width="3" height="22" fill="#fff"/>
<rect x="1754" y="64" width="1" height="51" fill="#000"/>
<rect x="1752" y="64" width="5" height="48" fill="#000"/>
<rect x="1762" y="93" width="1" height="79" fill="#000"/>
<rect x="1760" y="111" width="5" height="55" fill="#000"/>
<rect x="1770" y="161" width="1" height="36" fill="#000"/>
<rect x="1768" y="165" width="5" height="11" fill="#000"/>
<rect x="1778" y="174" width="1" height="3" fill="#000"/>
<rect x="1776" y="174" width="5" height="1" fill="#000"/>
</g>
<polyline points="2,447.0 10,436.0 18,418.8 26,400.6 34,384.4 42,374.3 50,365.1 58,354.0 66,345.9 74,348.9 82,341.8 90,346.3 98,339.4 106,317.5 114,289.2 122,262.8 130,244.6 138,230.4 146,224.4 154,220.4 162,218.2 170,215.6 178,212.6 186,219.5 194,224.9 202,235.0 210,249.3 218,273.3 226,298.6 234,329.1 242,359.2 250,393.0 258,437.4 266,485.4 274,517.4 282,582.1 290,600.6 298,599.3 306,575.5 314,552.5 322,530.7 330,518.0 338,509.5 346,497.7 354,494.1 362,489.1 370,488.1 378,490.4 386,489.2 394,497.4 402,501.9 410,508.5 418,509.0 426,508.6 434,500.8 442,483.4 450,464.6 458,443.4 466,429.1 474,417.1 482,405.9 490,392.6 498,381.4 506,367.4 514,360.8 522,352.8 530,350.0 538,350.4 546,347.8 554,347.2 562,343.0 570,335.2 578,334.3 586,338.0 594,341.9 602,348.4 610,355.6 618,356.5 626,359.5 634,364.5 642,365.1 650,364.3 658,360.2 666,350.7 674,340.9 682,331.2 690,309.7 698,301.2 706,295.3 714,277.5 722,270.1 730,259.8 738,253.3 746,251.4 754,258.9 762,261.0 770,272.7 778,288.9 786,301.4 794,319.2 802,340.8 810,359.1 818,387.8 826,424.4 834,464.8 842,499.9 850,537.9 858,571.3 866,601.0 874,630.3 882,656.7 890,665.3 898,684.7 906,702.9 914,706.7 922,713.8 930,716.7 938,720.1 946,722.4 954,723.4 962,711.5 970,694.0 978,673.9 986,660.3 994,651.7 1002,641.2 1010,629.4 1018,621.7 1026,607.3 1034,592.9 1042,580.0 1050,573.9 1058,567.4 1066,566.9 1074,567.9 1082,568.7 1090,575.4 1098,584.1 1106,587.4 1114,591.3 1122,594.2 1130,587.5 1138,579.3 1146,576.8 1154,568.7 1162,561.7 1170,553.8 1178,527.5 1186,503.7 1194,487.6 1202,471.9 1210,463.3 1218,454.1 1226,446.1 1234,439.1 1242,431.2 1250,425.3 1258,421.0 1266,421.8 1274,420.3 1282,416.3 1290,410.7 1298,418.8 1306,426.1 1314,421.3 1322,408.7 1330,386.6 1338,376.5 1346,364.4 1354,352.6 1362,343.0 1370,335.0 1378,323.7 1386,305.1 1394,293.3 1402,285.5 1410,280.1 1418,277.8 1426,275.0 1434,275.6 1442,273.7 1450,276.6 1458,281.2 1466,286.1 1474,279.9 1482,287.5 1490,289.2 1498,296.5 1506,296.5 1514,291.1 1522,278.8 1530,252.9 1538,225.2 1546,183.1 1554,129.5 1562,96.2 1570,67.5 1578,51.4 1586,46.5 1594,42.4 1602,37.2 1610,32.9 1618,24.6 1626,22.7 1634,20.3 1642,14.9 1650,12.5 1658,6.7 1666,3.4 1674,-8.1 1682,-9.8 1690,-11.8 1698,-14.1 1706,-14.4 1714,-8.6 1722,-3.9 1730,-3.9 1738,-4.8 1746,-7.6 1754,0.2 1762,3.2 1770,6.3 1778,6.1" fill="none" stroke="#008080" stroke-width="3" stroke-linejoin="round" shape-rendering="crispEdges"/>
<polyline points="2,538.3 10,535.2 18,530.8 26,526.1 34,519.0 42,510.9 50,502.8 58,493.1 66,484.6 74,478.5 82,470.0 90,467.4 98,468.4 106,476.5 114,485.6 122,496.7 130,508.9 138,520.0 146,531.2 154,543.3 162,553.5 170,567.4 178,580.5 186,595.5 194,611.8 202,624.9 210,639.3 218,654.1 226,667.6 234,679.7 242,690.9 250,702.4 258,715.1 266,726.6 274,734.0 282,746.0 290,749.5 298,749.3 306,742.5 314,734.3 322,723.8 330,715.3 338,707.2 346,698.5 354,692.8 362,685.9 370,676.4 378,666.3 386,657.2 394,645.5 402,636.6 410,626.4 418,616.6 426,607.8 434,600.9 442,592.1 450,582.1 458,571.3 466,562.4 474,554.8 482,544.1 490,535.6 498,528.5 506,522.1 514,517.6 522,512.8 530,507.9 538,503.2 546,498.4 554,489.3 562,480.2 570,470.4 578,461.9 586,455.8 594,449.9 602,442.9 610,438.1 618,432.5 626,426.9 634,422.3 642,421.8 650,422.7 658,426.4 666,430.6 674,435.2 682,442.1 690,452.5 698,461.2 706,471.8 714,483.8 722,495.7 730,507.4 738,517.7 746,529.2 754,541.0 762,558.9 770,577.9 778,593.3 786,607.5 794,619.8 802,634.8 810,650.0 818,668.8 826,685.4 834,700.9 842,712.7 850,725.6 858,736.8 866,746.6 874,757.3 882,767.8 890,775.1 898,783.5 906,788.8 914,791.0 922,793.8 930,795.5 938,796.7 946,797.5 954,797.6 962,792.3 970,785.7 978,780.6 986,775.9 994,773.4 1002,769.0 1010,762.6 1018,754.8 1026,747.7 1034,741.0 1042,736.0 1050,731.2 1058,726.0 1066,723.7 1074,718.9 1082,711.6 1090,705.1 1098,700.8 1106,698.0 1114,693.5 1122,688.0 1130,679.0 1138,670.9 1146,664.2 1154,659.2 1162,654.5 1170,650.8 1178,644.4 1186,636.8 1194,630.1 1202,622.9 1210,617.7 1218,612.1 1226,607.8 1234,604.0 1242,599.9 1250,594.3 1258,589.7 1266,581.9 1274,574.1 1282,567.8 1290,558.2 1298,548.1 1306,537.6 1314,526.3 1322,514.9 1330,506.2 1338,499.3 1346,490.3 1354,481.5 1362,472.5 1370,463.8 1378,458.7 1386,451.9 1394,445.3 1402,439.9 1410,433.1 1418,427.6 1426,421.5 1434,416.3 1442,410.3 1450,405.0 1458,398.2 1466,390.8 1474,381.4 1482,375.6 1490,371.1 1498,364.5 1506,357.7 1514,353.3 1522,349.0 1530,342.8 1538,333.7 1546,323.0 1554,309.5 1562,297.8 1570,286.1 1578,276.8 1586,272.8 1594,268.2 1602,261.6 1610,255.1 1618,245.1 1626,238.2 1634,228.5 1642,219.2 1650,207.9 1658,196.5 1666,186.5 1674,177.8 1682,165.8 1690,153.8 1698,142.1 1706,132.7 1714,123.8 1722,116.1 1730,111.2 1738,107.8 1746,106.2 1754,109.5 1762,113.4 1770,117.6 1778,119.6" fill="none" stroke="#008080" stroke-width="3" stroke-linejoin="round" shape-rendering="crispEdges"/>
<polyline points="2,632.5 10,636.6 18,644.7 26,648.7 34,652.4 42,646.7 50,639.6 58,632.5 66,618.3 74,605.1 82,596.0 90,588.9 98,598.0 106,632.5 114,682.0 122,723.7 130,765.5 138,800.7 146,833.6 154,861.1 162,886.4 170,917.1 178,945.0 186,972.0 194,998.6 202,1014.9 210,1029.2 218,1034.9 226,1036.6 234,1030.3 242,1022.6 250,1011.9 258,992.8 266,967.7 274,950.6 282,909.9 290,898.5 298,899.2 306,909.5 314,916.0 322,916.8 330,912.7 338,905.0 346,899.4 354,891.6 362,882.8 370,864.7 378,842.2 386,825.2 394,793.6 402,771.4 410,744.3 418,724.3 426,707.0 434,701.0 442,700.8 450,699.6 458,699.2 466,695.8 474,692.5 482,682.3 490,678.6 498,675.6 506,676.8 514,674.4 522,672.9 530,665.9 538,655.9 546,649.1 554,631.3 562,617.4 570,605.5 578,589.5 586,573.5 594,557.9 602,537.3 610,520.7 618,508.4 626,494.4 634,480.1 642,478.5 650,481.2 658,492.6 666,510.5 674,529.5 682,552.9 690,595.4 698,621.2 706,648.2 714,690.1 722,721.3 730,755.1 738,782.1 746,807.1 754,823.0 762,856.7 770,883.1 778,897.7 786,913.5 794,920.3 802,928.8 810,940.9 818,949.7 826,946.5 834,937.0 842,925.5 850,913.3 858,902.3 866,892.2 874,884.4 882,878.8 890,884.9 898,882.3 906,874.7 914,875.2 922,873.8 930,874.4 938,873.3 946,872.5 954,871.8 962,873.1 970,877.5 978,887.4 986,891.4 994,895.0 1002,896.7 1010,895.8 1018,888.0 1026,888.2 1034,889.2 1042,891.9 1050,888.5 1058,884.6 1066,880.5 1074,869.9 1082,854.4 1090,834.8 1098,817.5 1106,808.5 1114,795.6 1122,781.9 1130,770.4 1138,762.6 1146,751.7 1154,749.7 1162,747.3 1170,747.8 1178,761.3 1186,770.0 1194,772.5 1202,773.8 1210,772.2 1218,770.0 1226,769.6 1234,769.0 1242,768.5 1250,763.4 1258,758.4 1266,742.0 1274,727.9 1282,719.2 1290,705.7 1298,677.5 1306,649.1 1314,631.3 1322,621.1 1330,625.8 1338,622.2 1346,616.2 1354,610.3 1362,601.9 1370,592.5 1378,593.7 1386,598.7 1394,597.3 1402,594.3 1410,586.1 1418,577.5 1426,568.0 1434,557.1 1442,546.9 1450,533.4 1458,515.3 1466,495.5 1474,483.0 1482,463.7 1490,452.9 1498,432.6 1506,418.9 1514,415.5 1522,419.1 1530,432.8 1538,442.1 1546,462.8 1554,489.5 1562,499.4 1570,504.6 1578,502.1 1586,499.2 1594,493.9 1602,486.1 1610,477.3 1618,465.6 1626,453.7 1634,436.6 1642,423.5 1650,403.4 1658,386.4 1666,369.7 1674,363.6 1682,341.3 1690,319.3 1698,298.3 1706,279.8 1714,256.1 1722,236.2 1730,226.3 1738,220.3 1746,220.0 1754,218.8 1762,223.6 1770,228.9 1778,233.1" fill="none" stroke="#008080" stroke-width="3" stroke-linejoin="round" shape-rendering="crispEdges"/>
<rect x="3" y="20" width="2227" height="2" fill="#ff0000"/>
<rect x="3" y="241" width="2227" height="2" fill="#ff0000"/>
<rect x="3" y="415" width="2227" height="2" fill="#ff0000"/>
<rect x="3" y="571" width="2227" height="2" fill="#ff0000"/>
<rect x="3" y="751" width="2227" height="2" fill="#ff0000"/>
<rect x="3" y="883" width="2227" height="2" fill="#ff0000"/>
<g shape-rendering="crispEdges"><clipPath id="il"><rect x="0" y="0" width="27" height="40"/></clipPath><clipPath id="ir"><rect x="27" y="0" width="30" height="40"/></clipPath><rect x="13" y="13" width="28" height="20" rx="2.5" fill="#fff" stroke="#d52b1e" stroke-width="2" clip-path="url(#il)"/><rect x="13" y="13" width="28" height="20" rx="2.5" fill="#fff" stroke="#0055a4" stroke-width="2" clip-path="url(#ir)"/><rect x="16" y="18" width="10" height="10" fill="#ffdcd4"/><rect x="28" y="18" width="10" height="10" fill="#bde3ff"/><rect x="16" y="16" width="10" height="2" fill="#d52b1e"/><rect x="16" y="22" width="10" height="2" fill="#d52b1e"/><rect x="16" y="28" width="10" height="2" fill="#d52b1e"/><rect x="28" y="16" width="10" height="2" fill="#0055a4"/><rect x="28" y="22" width="10" height="2" fill="#0055a4"/><rect x="28" y="28" width="10" height="2" fill="#0055a4"/></g>
</g>
<g clip-path="url(#cr)">
<line x1="2" y1="991.5" x2="2230" y2="991.5" stroke="#c0c0c0" stroke-width="1" stroke-dasharray="3 3"/>
<line x1="2" y1="1082.5" x2="2230" y2="1082.5" stroke="#c0c0c0" stroke-width="1" stroke-dasharray="3 3"/>
<polyline points="2,1013.4 10,1005.0 18,990.1 26,995.5 34,989.0 42,998.3 50,997.3 58,988.7 66,991.5 74,1030.5 82,1010.5 90,1055.2 98,1067.3 106,1084.3 114,1087.9 122,1092.8 130,1089.6 138,1090.8 146,1085.6 154,1082.7 162,1083.3 170,1090.8 178,1092.1 186,1077.5 194,1085.3 202,1066.4 210,1067.4 218,1055.9 226,1048.7 234,1033.5 242,1032.4 250,1033.6 258,1032.3 266,1025.8 274,1019.9 282,1034.4 290,1020.8 298,1014.6 306,1006.9 314,1006.0 322,1004.0 330,1018.9 338,1024.8 346,1017.0 354,1037.2 362,1030.2 370,1027.3 378,1026.2 386,1021.7 394,1018.5 402,1022.3 410,1014.5 418,1007.7 426,1006.9 434,1004.0 442,991.2 450,986.7 458,982.1 466,993.7 474,997.3 482,990.8 490,990.6 498,995.5 506,990.1 514,1012.6 522,1007.7 530,1024.1 538,1032.5 546,1022.6 554,1010.2 562,1004.5 570,997.5 578,1010.2 586,1025.6 594,1024.1 602,1018.7 610,1029.6 618,1015.7 626,1015.9 634,1020.6 642,1037.9 650,1041.8 658,1054.4 666,1063.8 674,1068.0 682,1074.2 690,1089.7 698,1076.6 706,1080.6 714,1092.6 722,1085.2 730,1089.8 738,1084.6 746,1084.8 754,1069.9 762,1089.8 770,1089.0 778,1069.4 786,1071.4 794,1056.0 802,1064.9 810,1070.7 818,1076.5 826,1061.8 834,1057.0 842,1045.9 850,1053.7 858,1053.9 866,1054.2 874,1063.0 882,1066.9 890,1069.1 898,1065.8 906,1048.2 914,1049.6 922,1047.8 930,1049.7 938,1039.8 946,1036.8 954,1020.5 962,1018.6 970,1009.9 978,1004.0 986,1012.7 994,1013.9 1002,1014.8 1010,1010.5 1018,1012.0 1026,1001.9 1034,999.7 1042,998.9 1050,1022.8 1058,1019.3 1066,1048.1 1074,1040.3 1082,1026.2 1090,1037.6 1098,1050.5 1106,1044.9 1114,1033.3 1122,1025.1 1130,1005.6 1138,1005.2 1146,1013.5 1154,1010.7 1162,1011.5 1170,1009.4 1178,989.6 1186,988.7 1194,998.2 1202,996.4 1210,1011.4 1218,1009.1 1226,1009.5 1234,1010.5 1242,1007.3 1250,1013.6 1258,1019.5 1266,1018.1 1274,1010.3 1282,1008.6 1290,994.4 1298,1010.2 1306,1002.7 1314,989.1 1322,983.1 1330,980.1 1338,1001.4 1346,994.6 1354,993.3 1362,992.7 1370,992.7 1378,991.5 1386,980.8 1394,995.7 1402,1005.9 1410,1006.9 1418,1019.0 1426,1013.5 1434,1025.9 1442,1014.9 1450,1028.5 1458,1020.2 1466,1013.9 1474,996.6 1482,1026.7 1490,1022.8 1498,1018.0 1506,1009.9 1514,1012.1 1522,1004.9 1530,992.9 1538,987.7 1546,977.9 1554,969.7 1562,984.2 1570,984.4 1578,1002.9 1586,1026.3 1594,1028.4 1602,1023.1 1610,1023.6 1618,1011.1 1626,1027.0 1634,1018.7 1642,1014.5 1650,1011.3 1658,1006.0 1666,1010.5 1674,1003.1 1682,1003.9 1690,1001.0 1698,998.9 1706,1007.4 1714,1014.0 1722,1014.4 1730,1016.9 1738,1019.2 1746,1012.2 1754,1031.1 1762,1048.4 1770,1051.2 1778,1050.7" fill="none" stroke="#1e90ff" stroke-width="3" stroke-linejoin="round" shape-rendering="crispEdges"/>
</g>
<g shape-rendering="crispEdges" fill="#000">
<rect x="2" y="2" width="2229" height="1"/>
<rect x="2" y="2" width="1" height="919"/>
<rect x="2230" y="2" width="1" height="919"/>
<rect x="2" y="920" width="2229" height="1"/>
<rect x="2" y="922" width="2229" height="1"/>
<rect x="2" y="922" width="1" height="230"/>
<rect x="2230" y="922" width="1" height="230"/>
<rect x="2" y="1151" width="2229" height="1"/>
</g>
<g font-size="19.5">
<rect x="2231" y="87" width="4" height="1" fill="#000"/>
<text x="2236" y="95" textLength="65.6" lengthAdjust="spacingAndGlyphs" fill="#000" color="#000">116.750</text>
<rect x="2231" y="151" width="4" height="1" fill="#000"/>
<text x="2236" y="159" textLength="65.6" lengthAdjust="spacingAndGlyphs" fill="#000" color="#000">116.360</text>
<rect x="2231" y="215" width="4" height="1" fill="#000"/>
<text x="2236" y="223" textLength="65.6" lengthAdjust="spacingAndGlyphs" fill="#000" color="#000">115.970</text>
<rect x="2231" y="279" width="4" height="1" fill="#000"/>
<text x="2236" y="287" textLength="65.6" lengthAdjust="spacingAndGlyphs" fill="#000" color="#000">115.580</text>
<rect x="2231" y="344" width="4" height="1" fill="#000"/>
<text x="2236" y="352" textLength="65.6" lengthAdjust="spacingAndGlyphs" fill="#000" color="#000">115.190</text>
<rect x="2231" y="408" width="4" height="1" fill="#000"/>
<text x="2236" y="416" textLength="65.6" lengthAdjust="spacingAndGlyphs" fill="#000" color="#000">114.800</text>
<rect x="2231" y="472" width="4" height="1" fill="#000"/>
<text x="2236" y="480" textLength="65.6" lengthAdjust="spacingAndGlyphs" fill="#000" color="#000">114.410</text>
<rect x="2231" y="536" width="4" height="1" fill="#000"/>
<text x="2236" y="544" textLength="65.6" lengthAdjust="spacingAndGlyphs" fill="#000" color="#000">114.020</text>
<rect x="2231" y="600" width="4" height="1" fill="#000"/>
<text x="2236" y="608" textLength="65.6" lengthAdjust="spacingAndGlyphs" fill="#000" color="#000">113.630</text>
<rect x="2231" y="664" width="4" height="1" fill="#000"/>
<text x="2236" y="672" textLength="65.6" lengthAdjust="spacingAndGlyphs" fill="#000" color="#000">113.240</text>
<rect x="2231" y="728" width="4" height="1" fill="#000"/>
<text x="2236" y="736" textLength="65.6" lengthAdjust="spacingAndGlyphs" fill="#000" color="#000">112.850</text>
<rect x="2231" y="792" width="4" height="1" fill="#000"/>
<text x="2236" y="800" textLength="65.6" lengthAdjust="spacingAndGlyphs" fill="#000" color="#000">112.460</text>
<rect x="2231" y="856" width="4" height="1" fill="#000"/>
<text x="2236" y="864" textLength="65.6" lengthAdjust="spacingAndGlyphs" fill="#000" color="#000">112.070</text>
<rect x="2231" y="23" width="4" height="1" fill="#000"/>
<rect x="2233" y="162" width="78" height="23" fill="#778899"/>
<text x="2238" y="181" textLength="66.7" lengthAdjust="spacingAndGlyphs" fill="#fff" color="#fff">116.226</text>
<rect x="2233" y="10" width="78" height="23" fill="#ff0000"/>
<text x="2238" y="29" textLength="66.7" lengthAdjust="spacingAndGlyphs" fill="#fff" color="#fff">117.154</text>
<rect x="2233" y="231" width="78" height="23" fill="#ff0000"/>
<text x="2238" y="250" textLength="66.7" lengthAdjust="spacingAndGlyphs" fill="#fff" color="#fff">115.809</text>
<rect x="2233" y="405" width="78" height="23" fill="#ff0000"/>
<text x="2238" y="424" textLength="66.7" lengthAdjust="spacingAndGlyphs" fill="#fff" color="#fff">114.751</text>
<rect x="2233" y="561" width="78" height="23" fill="#ff0000"/>
<text x="2238" y="580" textLength="66.7" lengthAdjust="spacingAndGlyphs" fill="#fff" color="#fff">113.802</text>
<rect x="2233" y="741" width="78" height="23" fill="#ff0000"/>
<text x="2238" y="760" textLength="66.7" lengthAdjust="spacingAndGlyphs" fill="#fff" color="#fff">112.706</text>
<rect x="2233" y="873" width="78" height="23" fill="#ff0000"/>
<text x="2238" y="892" textLength="66.7" lengthAdjust="spacingAndGlyphs" fill="#fff" color="#fff">111.901</text>
<rect x="2231" y="923" width="4" height="1" fill="#000"/>
<text x="2236" y="941" textLength="55.9" lengthAdjust="spacingAndGlyphs" fill="#000" color="#000">100.00</text>
<rect x="2231" y="991" width="4" height="1" fill="#000"/>
<text x="2236" y="999" textLength="45.1" lengthAdjust="spacingAndGlyphs" fill="#000" color="#000">70.00</text>
<rect x="2231" y="1082" width="4" height="1" fill="#000"/>
<text x="2236" y="1090" textLength="45.1" lengthAdjust="spacingAndGlyphs" fill="#000" color="#000">30.00</text>
<rect x="2231" y="1150" width="4" height="1" fill="#000"/>
<text x="2236" y="1146" textLength="35.2" lengthAdjust="spacingAndGlyphs" fill="#000" color="#000">0.00</text>
<rect x="2" y="1152" width="1" height="4" fill="#000"/>
<text x="1.5" y="1174" textLength="101.0" lengthAdjust="spacingAndGlyphs" fill="#000" color="#000">21 Jan 2026</text>
<rect x="130" y="1152" width="1" height="4" fill="#000"/>
<text x="129.5" y="1174" textLength="107.9" lengthAdjust="spacingAndGlyphs" fill="#000" color="#000">26 Jan 12:00</text>
<rect x="258" y="1152" width="1" height="4" fill="#000"/>
<text x="257.5" y="1174" textLength="107.9" lengthAdjust="spacingAndGlyphs" fill="#000" color="#000">29 Jan 04:00</text>
<rect x="386" y="1152" width="1" height="4" fill="#000"/>
<text x="385.5" y="1174" textLength="99.9" lengthAdjust="spacingAndGlyphs" fill="#000" color="#000">2 Feb 20:00</text>
<rect x="514" y="1152" width="1" height="4" fill="#000"/>
<text x="513.5" y="1174" textLength="99.5" lengthAdjust="spacingAndGlyphs" fill="#000" color="#000">5 Feb 12:00</text>
<rect x="642" y="1152" width="1" height="4" fill="#000"/>
<text x="641.5" y="1174" textLength="109.8" lengthAdjust="spacingAndGlyphs" fill="#000" color="#000">10 Feb 04:00</text>
<rect x="770" y="1152" width="1" height="4" fill="#000"/>
<text x="769.5" y="1174" textLength="109.8" lengthAdjust="spacingAndGlyphs" fill="#000" color="#000">12 Feb 20:00</text>
<rect x="898" y="1152" width="1" height="4" fill="#000"/>
<text x="897.5" y="1174" textLength="109.8" lengthAdjust="spacingAndGlyphs" fill="#000" color="#000">17 Feb 12:00</text>
<rect x="1026" y="1152" width="1" height="4" fill="#000"/>
<text x="1025.5" y="1174" textLength="109.5" lengthAdjust="spacingAndGlyphs" fill="#000" color="#000">20 Feb 04:00</text>
<rect x="1154" y="1152" width="1" height="4" fill="#000"/>
<text x="1153.5" y="1174" textLength="109.8" lengthAdjust="spacingAndGlyphs" fill="#000" color="#000">24 Feb 20:00</text>
<rect x="1282" y="1152" width="1" height="4" fill="#000"/>
<text x="1281.5" y="1174" textLength="110.9" lengthAdjust="spacingAndGlyphs" fill="#000" color="#000">27 Feb 12:00</text>
<rect x="1410" y="1152" width="1" height="4" fill="#000"/>
<text x="1409.5" y="1174" textLength="101.5" lengthAdjust="spacingAndGlyphs" fill="#000" color="#000">4 Mar 04:00</text>
<rect x="1538" y="1152" width="1" height="4" fill="#000"/>
<text x="1537.5" y="1174" textLength="101.9" lengthAdjust="spacingAndGlyphs" fill="#000" color="#000">6 Mar 20:00</text>
<rect x="1666" y="1152" width="1" height="4" fill="#000"/>
<text x="1665.5" y="1174" textLength="111.5" lengthAdjust="spacingAndGlyphs" fill="#000" color="#000">11 Mar 12:00</text>
<text x="6" y="945" textLength="115.2" lengthAdjust="spacingAndGlyphs" fill="#000">RSI(14) 43.90</text>
</g>
</svg></body></html>
